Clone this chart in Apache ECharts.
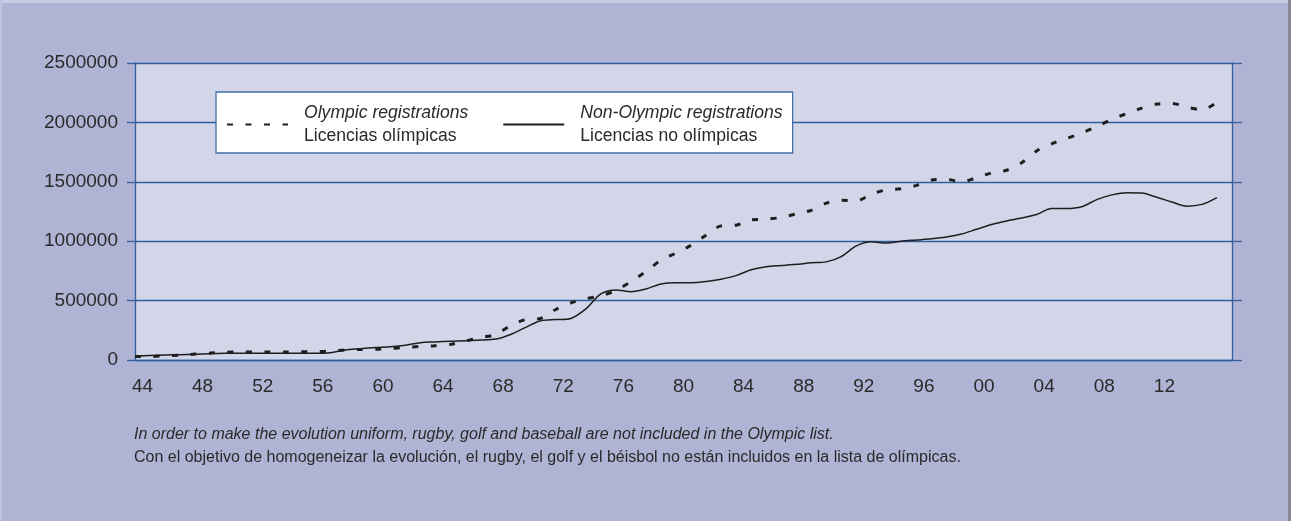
<!DOCTYPE html>
<html>
<head>
<meta charset="utf-8">
<script src="https://cdn.jsdelivr.net/npm/echarts@6/dist/echarts.min.js"></script>
<style>
html,body{margin:0;padding:0;background:#afb3d4;}
#containterChart{position:absolute;left:0;top:0;width:1291px;height:521px;}
.edgeTop{position:absolute;left:0;top:0;width:1291px;height:3px;background:#c7cae2;}
.edgeLeft{position:absolute;left:0;top:0;width:2px;height:521px;background:#bfc2dc;}
.edgeRight{position:absolute;right:0;top:0;width:3px;height:521px;background:#86879b;}
</style>
</head>
<body>
<div id="containterChart"></div>
<div class="edgeTop"></div>
<div class="edgeLeft"></div>
<div class="edgeRight"></div>
<script>
var years = [1944,1945,1946,1947,1948,1949,1950,1951,1952,1953,1954,1955,1956,1957,1958,1959,
    1960,1961,1962,1963,1964,1965,1966,1967,1968,1969,1970,1971,1972,1973,1974,1975,1976,1977,
    1978,1979,1980,1981,1982,1983,1984,1985,1986,1987,1988,1989,1990,1991,1992,1993,1994,1995,
    1996,1997,1998,1999,2000,2001,2002,2003,2004,2005,2006,2007,2008,2009,2010,2011,2012,2013,
    2014,2015,2016];

// licencias olimpicas
var olympic = [30000,30000,35000,40000,50000,58000,65000,67000,67000,68000,68000,69000,70000,75000,
    85000,88000,90000,98000,106000,114000,120000,131000,160000,190000,215000,290000,340000,350000,
    425000,480000,515000,540000,585000,660000,745000,840000,900000,965000,1050000,1129000,1135000,
    1180000,1185000,1200000,1230000,1260000,1320000,1345000,1340000,1395000,1432000,1442000,1470000,
    1515000,1520000,1500000,1535000,1575000,1597000,1660000,1760000,1820000,1865000,1910000,1965000,
    2025000,2075000,2120000,2155000,2160000,2130000,2105000,2171000];

// licencias no olimpicas
var nonOlympic = [34000,38000,42000,45000,49000,53000,56000,56000,56000,56000,56000,56000,56000,62000,
    85000,95000,105000,112000,125000,146000,152000,158000,163000,168000,176000,215000,275000,330000,
    340000,350000,430000,556000,590000,575000,598000,640000,650000,650000,660000,680000,710000,
    760000,785000,795000,805000,818000,826000,870000,960000,995000,985000,1000000,1010000,1020000,
    1035000,1060000,1100000,1140000,1170000,1195000,1225000,1275000,1275000,1290000,1350000,1390000,
    1408000,1405000,1370000,1330000,1295000,1310000,1367000];

var labelYears = [1944,1948,1952,1956,1960,1964,1968,1972,1976,1980,1984,1988,1992,1996,2000,2004,2008,2012];

var seriesNames = ['Olympic', 'NonOlympic'];
var legendTop = ['Olympic registrations', 'Non-Olympic registrations'];
var legendBottom = ['Licencias olímpicas', 'Licencias no olímpicas'];

var footEn = 'In order to make the evolution uniform, rugby, golf and baseball are not included in the Olympic list.';
var footEs = 'Con el objetivo de homogeneizar la evolución, el rugby, el golf y el béisbol no están incluidos en la lista de olímpicas.';

var fontName = '"Liberation Sans", Arial, sans-serif';
var txtColor = '#2a2a2a';
var blue = '#2f5f9e';

function pairs(vals){
    var out = [];
    for (var i = 0; i < vals.length; i++) {
        out.push([years[i], vals[i]]);
    }
    return out;
}

var dom = document.getElementById("containterChart");
var myChart = echarts.init(dom, null, {renderer: 'canvas'});
var option = {
    animation: false,
    textStyle: {fontFamily: fontName, color: txtColor},
    title: {
        text: footEn,
        subtext: footEs,
        left: 129,
        top: 422,
        itemGap: 7,
        textStyle: {fontFamily: fontName, fontSize: 16, fontStyle: 'italic', fontWeight: 'normal', color: txtColor},
        subtextStyle: {fontFamily: fontName, fontSize: 16, color: txtColor}
    },
    grid: {left: 135, right: 59, top: 63, bottom: 161, show: true, backgroundColor: '#d3d6e8', borderWidth: 0},
    legend: {
        left: 216,
        top: 92,
        orient: 'horizontal',
        backgroundColor: '#ffffff',
        borderColor: '#4470aa',
        borderWidth: 1.3,
        borderRadius: 0,
        padding: [12, 10, 8, 10],
        itemWidth: 61,
        itemHeight: 42,
        itemGap: 34,
        itemStyle: {opacity: 0},
        data: seriesNames,
        formatter: function(name){
            var k = seriesNames.indexOf(name);
            return '{a|' + legendTop[k] + '}\n{b|' + legendBottom[k] + '}';
        },
        textStyle: {
            padding: [0, 0, 0, 11],
            rich: {
                a: {fontFamily: fontName, fontSize: 17.6, fontStyle: 'italic', lineHeight: 23, color: txtColor},
                b: {fontFamily: fontName, fontSize: 17.6, lineHeight: 23, color: txtColor}
            }
        }
    },
    xAxis: {
        type: 'value',
        min: 1944,
        max: 2017,
        axisLine: {show: true, onZero: false, lineStyle: {color: blue, width: 1.3}},
        axisTick: {show: false},
        splitLine: {show: false},
        axisLabel: {
            customValues: labelYears.map(function(y){ return y + 0.5; }),
            formatter: function(v){ return String(Math.floor(v)).slice(2); },
            fontSize: 19,
            margin: 17,
            color: txtColor,
            fontFamily: fontName
        }
    },
    yAxis: [{
        type: 'value',
        min: 0,
        max: 2500000,
        interval: 500000,
        axisLine: {show: true, lineStyle: {color: blue, width: 1.3}},
        axisTick: {show: true, length: 8, lineStyle: {color: blue, width: 1.3}},
        axisLabel: {
            fontSize: 19, margin: 17, color: txtColor, fontFamily: fontName,
            formatter: function(v){ return String(v); }
        },
        splitLine: {show: true, lineStyle: {color: blue, width: 1.3}}
    }, {
        type: 'value',
        position: 'right',
        min: 0,
        max: 2500000,
        interval: 500000,
        axisLine: {show: true, lineStyle: {color: blue, width: 1.3}},
        axisTick: {show: true, length: 10, lineStyle: {color: blue, width: 1.3}},
        axisLabel: {show: false},
        splitLine: {show: false}
    }],
    series: [{
        name: 'Olympic',
        type: 'line',
        smooth: 0.3,
        showSymbol: false,
        symbol: 'none',
        lineStyle: {color: '#1e1e1e', width: 3, type: [6, 12.5]},
        itemStyle: {color: '#1e1e1e'},
        data: pairs(olympic),
        z: 3
    }, {
        name: 'NonOlympic',
        type: 'line',
        smooth: 0.3,
        showSymbol: false,
        symbol: 'none',
        lineStyle: {color: '#1e1e1e', width: 1.5},
        itemStyle: {color: '#1e1e1e'},
        data: pairs(nonOlympic),
        z: 3
    }]
};

myChart.setOption(option, true);
</script>
</body>
</html>
